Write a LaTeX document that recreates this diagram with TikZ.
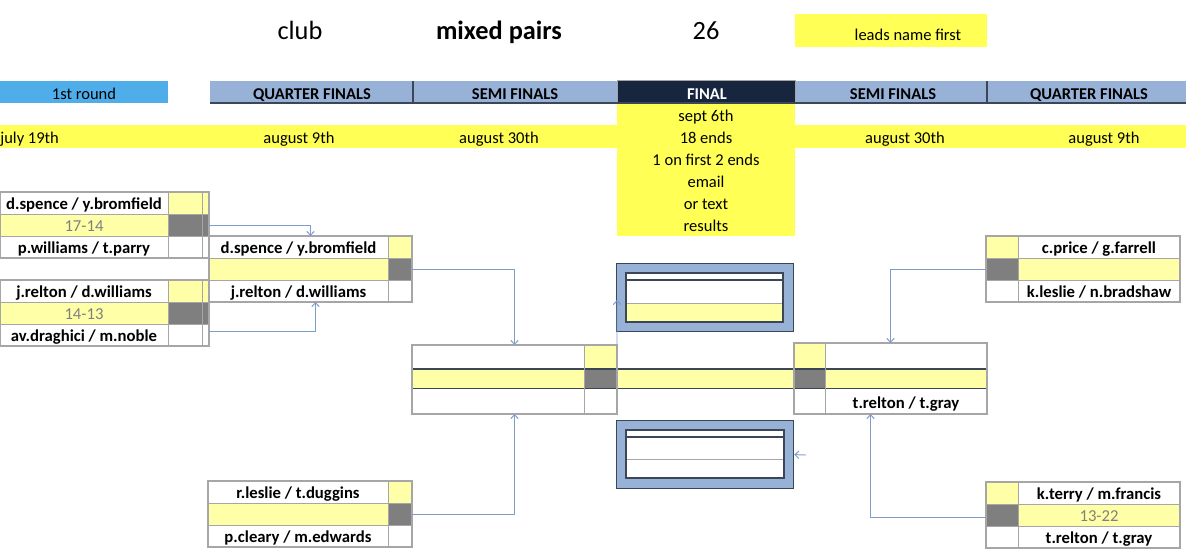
\documentclass[tikz,border=0pt]{standalone}
\usepackage{fontspec}
\setmainfont{Carlito}
\usetikzlibrary{arrows.meta}
\definecolor{cpyel}{HTML}{FFFFA8}
\definecolor{cbyel}{HTML}{FFFF55}
\definecolor{cdgrey}{HTML}{7F7F7F}
\definecolor{chblue}{HTML}{98B1D6}
\definecolor{clblue}{HTML}{4FAEEA}
\definecolor{cnavy}{HTML}{17253F}
\definecolor{cbord}{HTML}{A6A6A6}
\definecolor{cdline}{HTML}{3B4656}
\definecolor{cconn}{HTML}{7F9CCB}
\definecolor{cscore}{HTML}{808080}
\tikzset{
  nm/.style={font=\fontsize{9.5}{11}\selectfont\bfseries, inner sep=0, text height=7.4pt, text depth=0pt},
  scr/.style={font=\fontsize{9.5}{11}\selectfont, text=cscore, inner sep=0, text height=7.4pt, text depth=0pt},
  reg/.style={font=\fontsize{9.4}{11}\selectfont, inner sep=0, text height=7.4pt, text depth=0pt},
  hdr/.style={font=\fontsize{9.4}{11}\selectfont\bfseries, inner sep=0, text height=7.4pt, text depth=0pt},
  big/.style={font=\fontsize{15}{17}\selectfont, inner sep=0, text height=10pt, text depth=0pt},
  boxframe/.style={draw=cbord, line width=0.9pt, inner sep=0, outer sep=0, anchor=north west},
  thin/.style={draw=cbord, line width=0.5pt},
  dk/.style={draw=cdline, line width=0.7pt},
  cn/.style={draw=cconn, line width=0.55pt, -{Straight Barb[length=0.08cm,width=0.15cm]}},
}
% score column on the right
\newcommand\lbracketbox[8]{%
  \fill[cpyel] (#2,#5+22) rectangle (#3,#5+44);
  \fill[cpyel] (#3,#5) rectangle (#4,#5+22);
  \fill[cdgrey] (#3,#5+22) rectangle (#4,#5+44);
  \draw[thin] (#2,#5+22) -- (#4,#5+22) (#2,#5+44) -- (#4,#5+44) (#3,#5) -- (#3,#5+66);
  \node[boxframe, minimum width={(#4-#2)*0.02cm}, minimum height={66*0.02cm}] (#1) at (#2,#5) {};
  \node[nm] (#1a) at ({(#2+#3)/2},#5+11) {#6};
  \node[scr] (#1b) at ({(#2+#3)/2},#5+33) {#7};
  \node[nm] (#1c) at ({(#2+#3)/2},#5+55) {#8};
}
% score column on the left
\newcommand\rbracketbox[8]{%
  \fill[cpyel] (#3,#5+22) rectangle (#4,#5+44);
  \fill[cpyel] (#2,#5) rectangle (#3,#5+22);
  \fill[cdgrey] (#2,#5+22) rectangle (#3,#5+44);
  \draw[thin] (#2,#5+22) -- (#4,#5+22) (#2,#5+44) -- (#4,#5+44) (#3,#5) -- (#3,#5+66);
  \node[boxframe, minimum width={(#4-#2)*0.02cm}, minimum height={66*0.02cm}] (#1) at (#2,#5) {};
  \node[nm] (#1a) at ({(#3+#4)/2},#5+11) {#6};
  \node[scr] (#1b) at ({(#3+#4)/2},#5+33) {#7};
  \node[nm] (#1c) at ({(#3+#4)/2},#5+55) {#8};
}
\begin{document}
\begin{tikzpicture}[x=0.02cm,y=-0.02cm]
\useasboundingbox (0,0) rectangle (1186,548);
% title row
\node[big] (club) at (300,31) {club};
\node[big, font=\fontsize{15}{17}\selectfont\bfseries] (mixed) at (499,31) {mixed pairs};
\node[big] (num) at (706,31) {26};
\node[fill=cbyel, inner sep=0, minimum width={192*0.02cm}, minimum height={33*0.02cm}, anchor=north west] (leads) at (795,14) {};
\node[reg] (leadst) at (908,34) {leads name first};
% round header row
\node[fill=clblue, inner sep=0, minimum width={168*0.02cm}, minimum height={22*0.02cm}, anchor=north west] (r1) at (0,81) {};
\node[reg] (r1t) at (84,92.5) {1st round};
\fill[chblue] (210,81) rectangle (1186,103);
\node[fill=cnavy, draw=cbord, line width=0.6pt, inner sep=0, minimum width={178*0.02cm}, minimum height={23*0.02cm}, anchor=north west] (fin) at (617,80) {};
\draw[cdline, line width=0.9pt] (210,103) -- (1186,103);
\draw[cdline, line width=0.6pt] (413,81) -- (413,103) (987,81) -- (987,103);
\node[hdr] (h1) at (312,92.5) {QUARTER FINALS};
\node[hdr] (h2) at (515,92.5) {SEMI FINALS};
\node[hdr, text=white] (h3) at (707,92.5) {FINAL};
\node[hdr] (h4) at (893,92.5) {SEMI FINALS};
\node[hdr] (h5) at (1089,92.5) {QUARTER FINALS};
% date band and final column
\fill[cbyel] (0,125) rectangle (1186,148);
\fill[cbyel] (617,103.5) rectangle (795,236);
\node[reg, anchor=west] (d1) at (0,137) {july 19th};
\node[reg] (d2) at (299,137) {august 9th};
\node[reg] (d3) at (499,137) {august 30th};
\node[reg] (d4) at (905,137) {august 30th};
\node[reg] (d5) at (1104,137) {august 9th};
\node[reg] (f1) at (706,115) {sept 6th};
\node[reg] (f2) at (706,137) {18 ends};
\node[reg] (f3) at (706,159) {1 on first 2 ends};
\node[reg] (f4) at (706,181) {email};
\node[reg] (f5) at (706,203) {or text};
\node[reg] (f6) at (706,225) {results};
% first round boxes
\lbracketbox{La}{0}{168}{209}{192}{d.spence / y.bromfield}{17-14}{p.williams / t.parry}
\lbracketbox{Lb}{0}{168}{209}{280}{j.relton / d.williams}{14-13}{av.draghici / m.noble}
\draw[thin] (202,192) -- (202,258) (202,280) -- (202,346) (209,258) -- (209,280);
% quarter finals
\lbracketbox{QFL}{209}{388}{412}{236}{d.spence / y.bromfield}{}{j.relton / d.williams}
\lbracketbox{QBL}{208}{388}{412}{481}{r.leslie / t.duggins}{}{p.cleary / m.edwards}
\rbracketbox{QFR}{986}{1018}{1180}{236}{c.price / g.farrell}{}{k.leslie / n.bradshaw}
\rbracketbox{QBR}{986}{1018}{1180}{482}{k.terry / m.francis}{13-22}{t.relton / t.gray}
% semi finals and final band
\fill[cpyel] (412,369) rectangle (584,388);
\fill[cpyel] (584,345) rectangle (617,369);
\fill[cdgrey] (584,369) rectangle (617,388);
\fill[cpyel] (617,369) rectangle (794,388);
\fill[cpyel] (794,343) rectangle (825,369);
\fill[cdgrey] (794,369) rectangle (825,389);
\fill[cpyel] (825,369) rectangle (987,389);
\draw[dk] (412,369) -- (987,369);
\draw[cdline, line width=0.5pt] (412,388) -- (987,388);
\draw[thin] (584,345) -- (584,414) (825,343) -- (825,414);
\node[boxframe, minimum width={205*0.02cm}, minimum height={69*0.02cm}] (SFL) at (412,345) {};
\node[boxframe, minimum width={193*0.02cm}, minimum height={71*0.02cm}] (SFR) at (794,343) {};
\node[nm] (SFRc) at (906,401.5) {t.relton / t.gray};
% trophy boxes
\node[fill=chblue, draw=cdline, line width=0.7pt, inner sep=0, minimum width={177*0.02cm}, minimum height={68*0.02cm}, anchor=north west] (TA) at (616,263) {};
\fill[white] (626,273) rectangle (783,303);
\fill[cpyel] (626,303) rectangle (783,322);
\draw[dk] (626,280) -- (783,280);
\draw[thin] (626,303) -- (783,303);
\draw[dk] (626,273) rectangle (783,322);
\node[fill=chblue, draw=cdline, line width=0.7pt, inner sep=0, minimum width={177*0.02cm}, minimum height={68*0.02cm}, anchor=north west] (TB) at (616,420) {};
\fill[white] (626,430) rectangle (784,478);
\draw[dk] (626,437) -- (784,437);
\draw[thin] (626,459) -- (784,459);
\draw[dk] (626,430) rectangle (784,478);
% connectors
\coordinate (ta) at (617,300);
\coordinate (tb) at (806,455);
\draw[cn] (La.east) -| (QFL.north);
\draw[cn] ([yshift=-0.36cm]Lb.east) -| ([xshift=0.1cm]QFL.south);
\draw[cn] (QFL.east) -| (SFL.north);
\draw[cn] (QBL.east) -| (SFL.south);
\draw[cn] (QFR.west) -| (SFR.north);
\draw[cn] ([yshift=-0.04cm]QBR.west) -| ([xshift=-0.4cm]SFR.south);
\draw[cn] (SFL.north east) -- (ta);
\draw[cn] (tb) -- (TB.east);
\end{tikzpicture}
\end{document}
